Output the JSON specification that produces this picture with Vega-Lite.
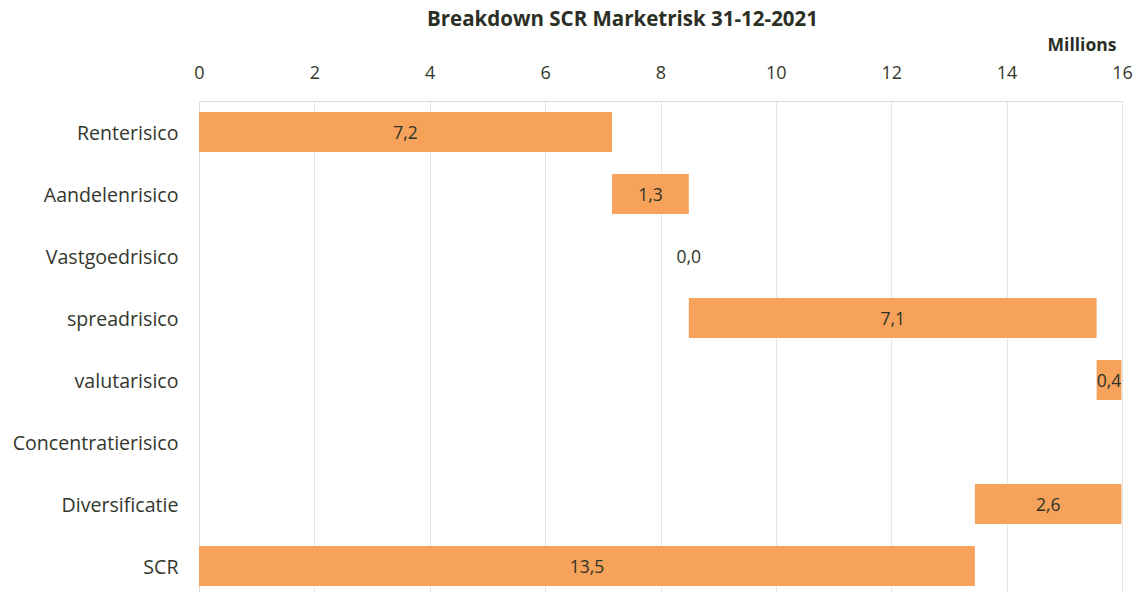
{
  "$schema": "https://vega.github.io/schema/vega-lite/v6.json",
  "width": 923,
  "height": 491,
  "autosize": "none",
  "padding": {"left": 199, "top": 101, "right": 21, "bottom": 0},
  "background": "white",
  "config": {
    "view": {"stroke": null},
    "font": "Open Sans",
    "locale": {"number": {"decimal": ",", "thousands": ".", "grouping": [3], "currency": ["€", ""]}}
  },
  "title": {
    "text": "Breakdown SCR Marketrisk 31-12-2021",
    "fontSize": 20.5,
    "fontWeight": "bold",
    "color": "#2b2f25",
    "anchor": "middle",
    "dx": -38,
    "offset": 6,
    "font": "Open Sans"
  },
  "data": {
    "values": [
      {"cat": "Renterisico", "x0": 0, "x1": 7.16, "amount": 7.16},
      {"cat": "Aandelenrisico", "x0": 7.16, "x1": 8.49, "amount": 1.33},
      {"cat": "Vastgoedrisico", "x0": 8.49, "x1": 8.49, "amount": 0.0},
      {"cat": "spreadrisico", "x0": 8.49, "x1": 15.56, "amount": 7.07},
      {"cat": "valutarisico", "x0": 15.56, "x1": 15.99, "amount": 0.43},
      {"cat": "Concentratierisico", "x0": null, "x1": null, "amount": null},
      {"cat": "Diversificatie", "x0": 13.45, "x1": 15.99, "amount": 2.56},
      {"cat": "SCR", "x0": 0, "x1": 13.45, "amount": 13.47}
    ]
  },
  "encoding": {
    "y": {
      "field": "cat",
      "type": "nominal",
      "sort": null,
      "scale": {
        "domain": ["Renterisico", "Aandelenrisico", "Vastgoedrisico", "spreadrisico", "valutarisico", "Concentratierisico", "Diversificatie", "SCR"],
        "range": [0, 496],
        "paddingInner": 0.355,
        "paddingOuter": 0.1775
      },
      "axis": {
        "title": null,
        "ticks": false,
        "domain": true,
        "domainColor": "#dcdcd0",
        "labelFontSize": 19.6,
        "labelColor": "#33372c",
        "labelPadding": 21,
        "labelOffset": 1.5,
        "labelFont": "Open Sans"
      }
    }
  },
  "layer": [
    {
      "mark": {"type": "bar", "color": "#F6A25B"},
      "encoding": {
        "x": {
          "field": "x0",
          "type": "quantitative",
          "scale": {"domain": [0, 16], "nice": false},
          "axis": {
            "orient": "top",
            "values": [0, 2, 4, 6, 8, 10, 12, 14, 16],
            "format": "d",
            "grid": true,
            "gridColor": "#e6e6da",
            "domain": true,
            "domainColor": "#dcdcd0",
            "ticks": false,
            "labelFlush": false,
            "labelFontSize": 18,
            "labelColor": "#33372c",
            "labelPadding": 19,
            "labelFont": "Open Sans",
            "title": "Millions",
            "titleFontSize": 17.5,
            "titleFontWeight": "bold",
            "titleColor": "#2b2f25",
            "titleAnchor": null,
            "titleAlign": "right",
            "titleBaseline": "middle",
            "titleX": 917,
            "titleY": -56
          }
        },
        "x2": {"field": "x1"}
      }
    },
    {
      "transform": [
        {"filter": "datum.amount != null"},
        {"calculate": "(datum.x0 + datum.x1) / 2", "as": "mid"}
      ],
      "mark": {"type": "text", "fontSize": 17.5, "color": "#2f3228", "font": "Open Sans", "dy": 2},
      "encoding": {
        "x": {"field": "mid", "type": "quantitative"},
        "text": {"field": "amount", "type": "quantitative", "format": ".1f"}
      }
    }
  ]
}
